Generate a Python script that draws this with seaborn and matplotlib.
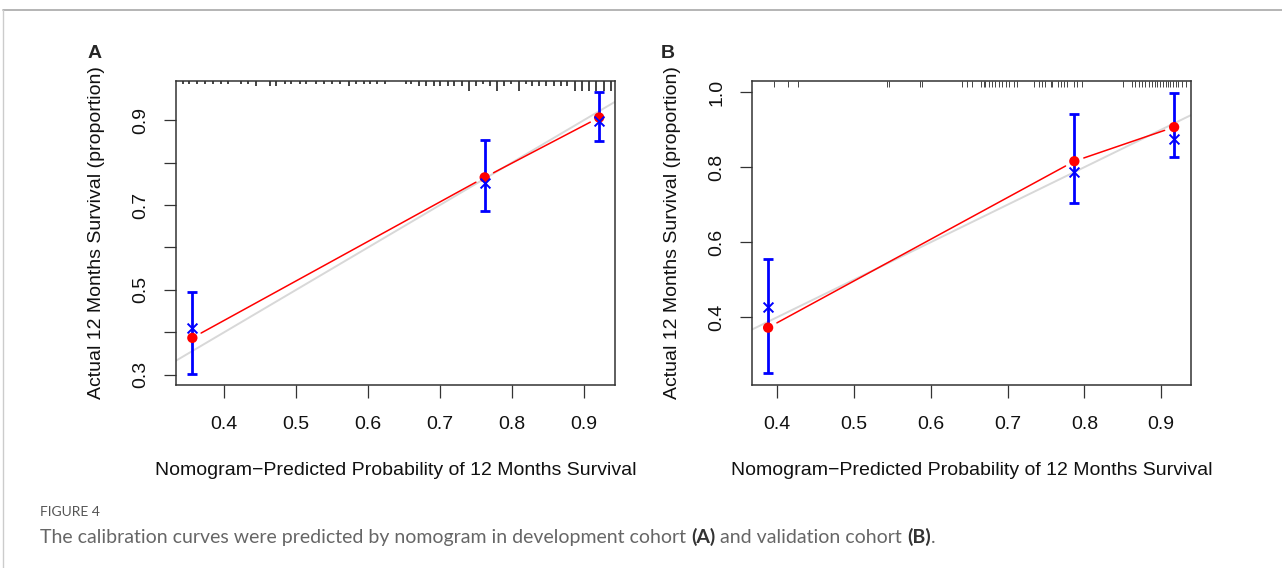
import numpy as np
import seaborn as sns
import matplotlib.pyplot as plt
from matplotlib.lines import Line2D
from matplotlib.transforms import blended_transform_factory

# ---- panel A: development cohort
pred_a = [0.356, 0.762, 0.921]
obs_a = [0.387, 0.765, 0.906]
corr_a = [0.411, 0.752, 0.897]
lo_a = [0.302, 0.685, 0.850]
hi_a = [0.494, 0.852, 0.965]
rug_a = [0.343, 0.352, 0.362, 0.374, 0.385, 0.396, 0.405, 0.424, 0.433,
         0.444, 0.464, 0.472, 0.484, 0.493, 0.505, 0.514, 0.528, 0.539,
         0.550, 0.561, 0.573, 0.583, 0.594, 0.603, 0.613, 0.623, 0.653,
         0.660, 0.671, 0.681, 0.691, 0.700, 0.711, 0.720, 0.730, 0.740,
         0.750, 0.759, 0.769, 0.779, 0.789, 0.799, 0.809, 0.819, 0.828,
         0.838, 0.847, 0.858, 0.868, 0.877, 0.888, 0.897, 0.907, 0.917,
         0.928, 0.938]
rug_a_n = [1, 1, 1, 1, 1, 1, 1, 1, 1, 2, 2, 2, 1, 1, 1, 1, 1, 1, 1, 1, 2,
           1, 1, 1, 1, 1, 1, 1, 2, 2, 2, 2, 2, 2, 2, 3, 2, 1, 2, 3, 2, 1,
           3, 1, 2, 2, 2, 2, 2, 2, 3, 3, 3, 3, 3, 3]
xticks_a = [0.4, 0.5, 0.6, 0.7, 0.8, 0.9]
yticks_a = [0.3, 0.5, 0.7, 0.9]
yminor_a = [0.4, 0.6, 0.8]

# ---- panel B: validation cohort
pred_b = [0.388, 0.787, 0.917]
obs_b = [0.372, 0.816, 0.907]
corr_b = [0.427, 0.786, 0.875]
lo_b = [0.250, 0.705, 0.826]
hi_b = [0.554, 0.941, 0.999]
rug_b = [0.396, 0.414, 0.427, 0.543, 0.546, 0.586, 0.589, 0.640, 0.647,
         0.653, 0.666, 0.669, 0.671, 0.676, 0.680, 0.684, 0.689, 0.693,
         0.698, 0.702, 0.708, 0.712, 0.734, 0.741, 0.745, 0.749, 0.756,
         0.758, 0.766, 0.769, 0.773, 0.777, 0.786, 0.790, 0.797, 0.851,
         0.862, 0.866, 0.871, 0.875, 0.879, 0.884, 0.888, 0.892, 0.895,
         0.899, 0.902, 0.906, 0.909, 0.912, 0.915, 0.919, 0.922, 0.927,
         0.932]
xticks_b = [0.4, 0.5, 0.6, 0.7, 0.8, 0.9]
yticks_b = [0.4, 0.6, 0.8, 1.0]

xlab = "Nomogram\u2212Predicted Probability of 12 Months Survival"
ylab = "Actual 12 Months Survival (proportion)"

sns.set_style("white")
plt.rcParams["font.family"] = ["Liberation Sans", "DejaVu Sans"]

W, H = 1282, 568
fig = plt.figure(figsize=(W / 100, H / 100), dpi=100)


def gapped_line(ax, xs, ys, gap=10, **kw):
    # R type="b": segments stop short of the points
    pts = ax.transData.transform(np.column_stack([xs, ys]))
    inv = ax.transData.inverted()
    for p0, p1 in zip(pts[:-1], pts[1:]):
        u = (p1 - p0) / np.hypot(*(p1 - p0))
        seg = inv.transform([p0 + u * gap, p1 - u * gap])
        ax.plot(seg[:, 0], seg[:, 1], **kw)


def panel(rect, xlim, ylim, pred, obs, corr, lo, hi, xt, yt, letter, lx):
    ax = fig.add_axes(rect)
    ax.set_xlim(xlim)
    ax.set_ylim(ylim)
    ax.axline((0, 0), slope=1, color="#d8d8d8", lw=1.4, zorder=1)
    gapped_line(ax, pred, obs, color="#ff0000", lw=1.1, zorder=2)
    yerr = [np.array(obs) - np.array(lo), np.array(hi) - np.array(obs)]
    ax.errorbar(pred, obs, yerr=yerr, fmt="none", ecolor="#0000ff",
                elinewidth=2.0, capsize=3.3, capthick=2.0, zorder=3)
    sns.scatterplot(x=pred, y=obs, ax=ax, color="#ff0000", s=55,
                    edgecolor="none", zorder=4)
    sns.scatterplot(x=pred, y=corr, ax=ax, color="#0000ff", marker="x",
                    s=50, linewidth=1.4, zorder=5)
    ax.set_xticks(xt)
    ax.set_xticklabels([f"{v:.1f}" for v in xt])
    ax.set_yticks(yt)
    ax.set_yticklabels([f"{v:.1f}" for v in yt])
    for s in ax.spines.values():
        s.set_color("#333333")
        s.set_linewidth(1.1)
    ax.tick_params(axis="both", which="both", direction="out", length=9,
                   width=0.9, color="#333333", labelsize=14,
                   labelcolor="#111111", bottom=True, left=True)
    ax.tick_params(axis="x", pad=13)
    ax.tick_params(axis="y", pad=10, labelrotation=90)
    for t in ax.get_yticklabels():
        t.set_va("center")
    ax.set_xlabel(xlab, fontsize=14, color="#111111", labelpad=21)
    ax.set_ylabel(ylab, fontsize=14, color="#111111", labelpad=20)
    fig.text(lx / W, 1 - 53 / H, letter, fontsize=14, fontweight="bold",
             ha="center", va="center")
    return ax


ax_a = panel([176 / W, 1 - 385 / H, 439 / W, 304 / H], (0.3333, 0.943),
             (0.276, 0.992), pred_a, obs_a, corr_a, lo_a, hi_a,
             xticks_a, yticks_a, "A", 95)
ax_a.set_yticks(yminor_a, minor=True)
tr = blended_transform_factory(ax_a.transData, ax_a.transAxes)
ax_h = ax_a.bbox.height
tick_px = 2.5 * 2.0 ** (np.array(rug_a_n) - 1)
ax_a.vlines(rug_a, 1 - tick_px / ax_h, 1, transform=tr, color="#111111",
            lw=1.1, zorder=2)

ax_b = panel([751.7 / W, 1 - 385 / H, 439.3 / W, 304 / H], (0.3666, 0.939),
             (0.219, 1.030), pred_b, obs_b, corr_b, lo_b, hi_b,
             xticks_b, yticks_b, "B", 668)
tr = blended_transform_factory(ax_b.transData, ax_b.transAxes)
ax_b.vlines(rug_b, 1 - 5.5 / ax_b.bbox.height, 1, transform=tr,
            color="#444444", lw=0.7, zorder=2)

# page frame
fig.add_artist(Line2D([3 / W, 1], [1 - 10 / H] * 2, transform=fig.transFigure,
                      color="#a8a8a8", lw=1.2))
fig.add_artist(Line2D([3 / W] * 2, [0, 1 - 10 / H], transform=fig.transFigure,
                      color="#cccccc", lw=1.0))

# caption
cap_font = ["Lato", "DejaVu Sans"]
fig.text(40 / W, 1 - 512 / H, "FIGURE 4", fontsize=10, color="#555555",
         family=cap_font, va="center")
pieces = [("The calibration curves were predicted by nomogram in development cohort ", "normal"),
          ("(A)", "bold"), (" and validation cohort ", "normal"), ("(B)", "bold"),
          (".", "normal")]
fig.canvas.draw()
r = fig.canvas.get_renderer()
x = 40
for txt, wt in pieces:
    t = fig.text(x / W, 1 - 543 / H, txt, fontsize=14, family=cap_font,
                 fontweight=wt, color="#333333" if wt == "bold" else "#666666",
                 va="baseline")
    x += t.get_window_extent(r).width

fig.savefig("out.png", dpi=100)
